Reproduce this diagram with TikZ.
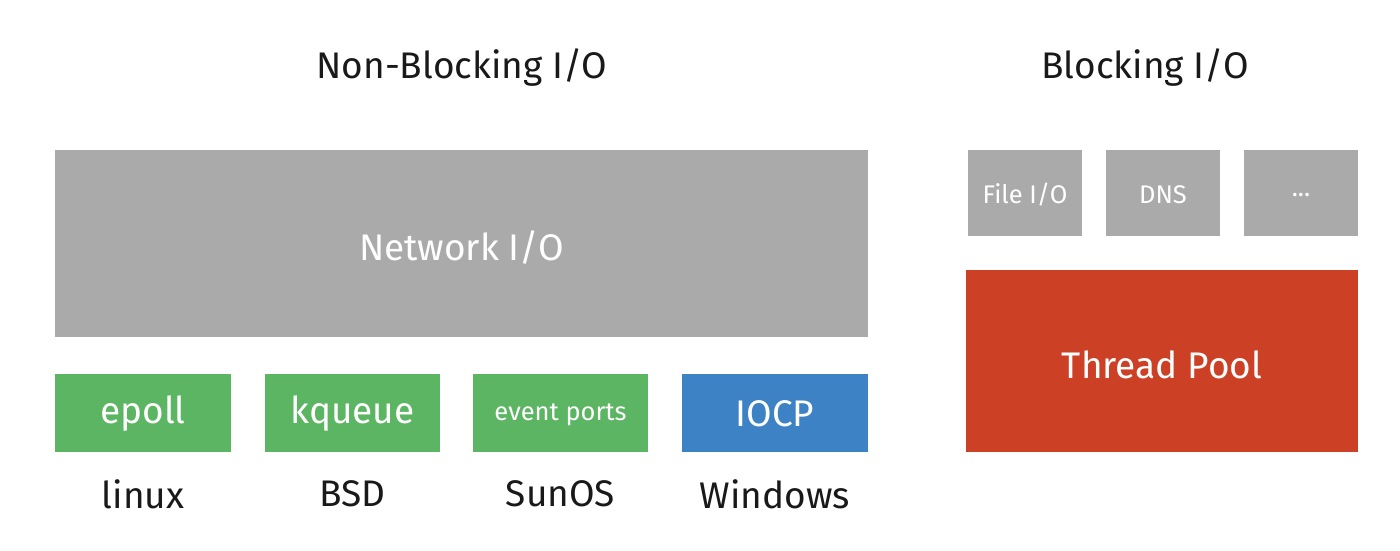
\documentclass[tikz,border=0pt]{standalone}
\usepackage{fontspec}
\setmainfont{Fira Sans}
\definecolor{boxgray}{HTML}{AAAAAA}
\definecolor{boxgreen}{HTML}{5CB562}
\definecolor{boxblue}{HTML}{3D82C4}
\definecolor{boxred}{HTML}{CC4125}
\tikzset{
  big/.style={font=\fontsize{37}{40}\selectfont},
  small/.style={font=\fontsize{25.5}{28}\selectfont},
  blk/.style={inner sep=0pt,text=white},
  lbl/.style={inner sep=0pt,text=black!90,big}}
\begin{document}
\begin{tikzpicture}[x=1pt,y=-1pt]
\useasboundingbox (0,0) rectangle (1400,551);
\fill[white] (0,0) rectangle (1400,551);
% titles
\node[lbl] (tnb) at (462,68) {Non-Blocking I/O};
\node[lbl] (tb) at (1145,68) {Blocking I/O};
% network
\fill[boxgray] (55,150) rectangle (868,337);
\node[blk,big] (net) at (461.5,247) {Network I/O};
% OS boxes
\fill[boxgreen] (55,374) rectangle (231,452);
\node[blk,big] (epoll) at (143,414) {epoll};
\fill[boxgreen] (265,374) rectangle (440,452);
\node[blk,big] (kq) at (352.5,414) {kqueue};
\fill[boxgreen] (473,374) rectangle (648,452);
\node[blk,small] (ep) at (560.5,415) {event ports};
\fill[boxblue] (682,374) rectangle (868,452);
\node[blk,big] (iocp) at (775,414) {IOCP};
% OS labels
\node[lbl] (linux) at (143,494) {linux};
\node[lbl] (bsd) at (352.5,494) {BSD};
\node[lbl] (sun) at (560.5,494) {SunOS};
\node[lbl] (win) at (775,494) {Windows};
% blocking
\fill[boxgray] (968,150) rectangle (1082,236);
\node[blk,small] (file) at (1025,195) {File I/O};
\fill[boxgray] (1106,150) rectangle (1220,236);
\node[blk,small] (dns) at (1163,195) {DNS};
\fill[boxgray] (1244,150) rectangle (1358,236);
\node[blk,small] (etc) at (1301,195) {...};
\fill[boxred] (966,270) rectangle (1358,452);
\node[blk,big] (tp) at (1162,365) {Thread Pool};
\end{tikzpicture}
\end{document}
